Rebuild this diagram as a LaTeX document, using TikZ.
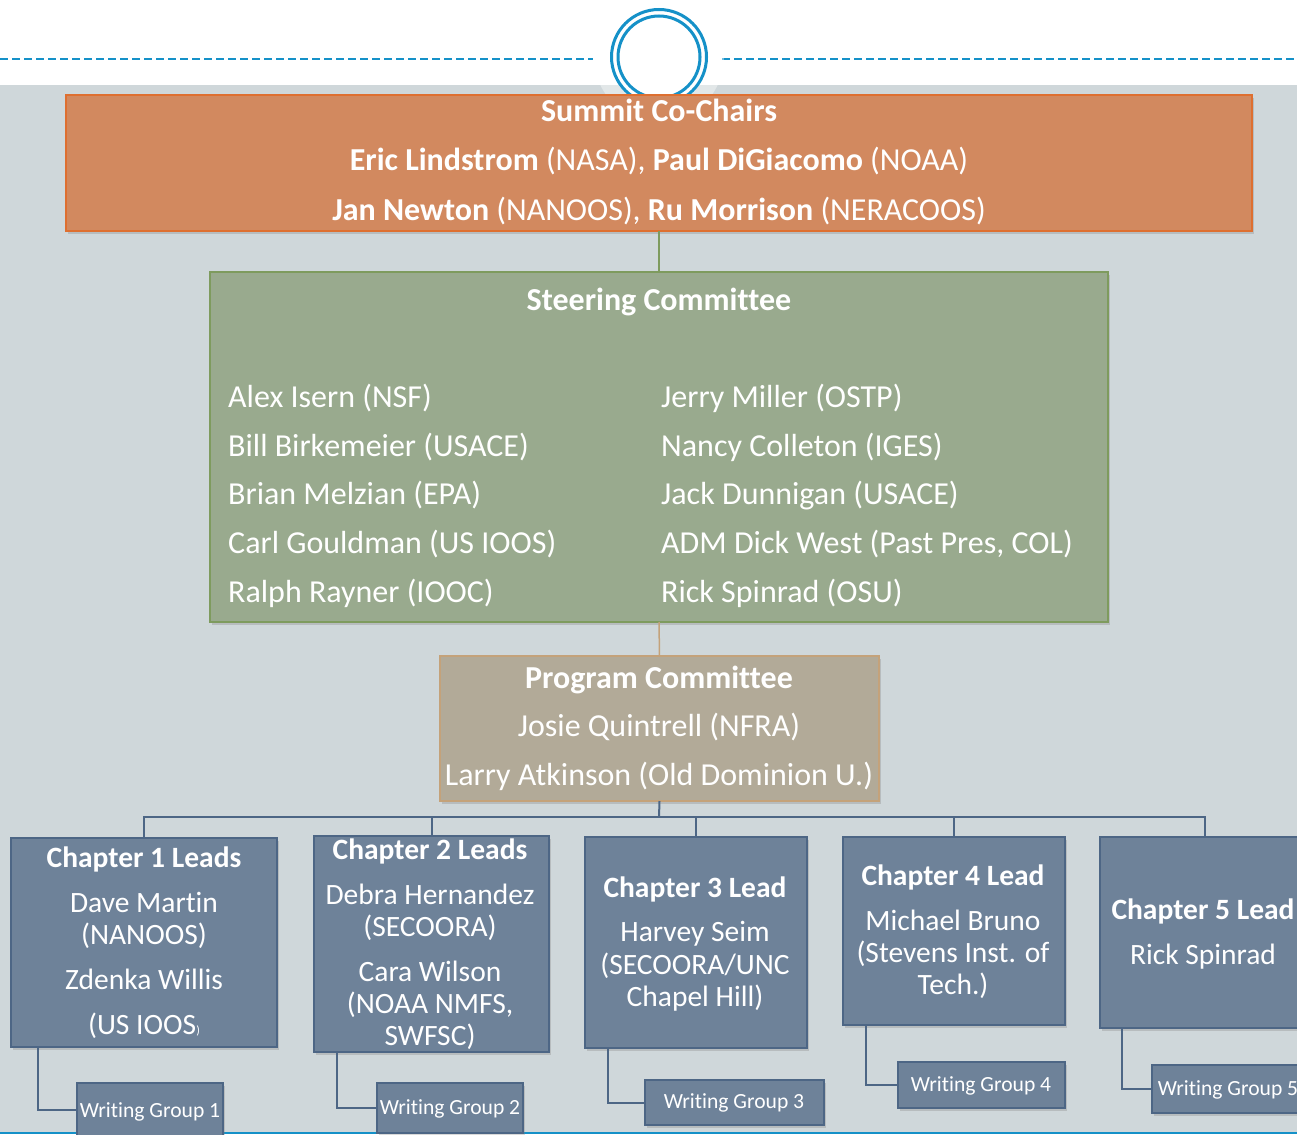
\documentclass[tikz,border=0pt]{standalone}
\usepackage{fontspec}
\setmainfont{Carlito}[Ligatures={NoCommon}]
\usetikzlibrary{shadows}
\definecolor{bgc}{HTML}{CFD7DA}
\definecolor{ringc}{HTML}{1591C8}
\definecolor{sumfill}{HTML}{D2895F}
\definecolor{sumdraw}{HTML}{DE6F30}
\definecolor{stfill}{HTML}{99AA8E}
\definecolor{stdraw}{HTML}{7E9B5E}
\definecolor{prfill}{HTML}{B2AA98}
\definecolor{prdraw}{HTML}{C4A27A}
\definecolor{chfill}{HTML}{6E8299}
\definecolor{chdraw}{HTML}{4D6685}
\newcommand\fBig{\fontsize{32}{38}\selectfont}
\newcommand\fMid{\fontsize{29.5}{35}\selectfont}
\newcommand\fSmall{\fontsize{21.6}{26}\selectfont}
\begin{document}
\begin{tikzpicture}[x=1pt,y=-1pt,
  box/.style={rectangle, inner sep=0pt, outer sep=0pt,
    drop shadow={opacity=0.3, shadow xshift=2pt, shadow yshift=-3pt}},
  sumbox/.style={box, fill=sumfill, draw=sumdraw, line width=2.5pt},
  stbox/.style={box, fill=stfill, draw=stdraw, line width=2pt},
  prbox/.style={box, fill=prfill, draw=prdraw, line width=2pt},
  chbox/.style={box, fill=chfill, draw=chdraw, line width=2pt},
  big/.style={text=white, font=\fBig, inner sep=0pt, anchor=base},
  mid/.style={text=white, font=\fMid, inner sep=0pt, anchor=base},
  small/.style={text=white, font=\fSmall, inner sep=0pt, anchor=base},
  conn/.style={chdraw, line width=2pt}]
\useasboundingbox (0,0) rectangle (1297,1134);
\clip (0,0) rectangle (1297,1134);
% background
\fill[bgc] (0,85) rectangle (1297,1134);
\draw[ringc, line width=2pt, dash pattern=on 8pt off 4pt] (0,59) -- (593,59);
\draw[ringc, line width=2pt, dash pattern=on 8pt off 4pt] (722,59) -- (1297,59);
\fill[white, opacity=0.4] (659,57) circle (65);
\fill[white] (659,57) circle (49);
\node[circle, draw=ringc, line width=3pt, minimum size=95pt, inner sep=0pt] (ringA) at (659,57) {};
\node[circle, draw=ringc, line width=3pt, minimum size=82pt, inner sep=0pt] (ringB) at (659,57) {};
\draw[ringc, line width=2pt] (0,1133) -- (1297,1133);

% connectors
\coordinate (bus) at (659,817);

% boxes
\node[sumbox, minimum width=1186pt, minimum height=136pt] (sum) at (659,163) {};
\node[stbox, minimum width=898pt, minimum height=350pt] (st) at (659,447) {};
\node[prbox, minimum width=439pt, minimum height=145pt] (pr) at (659.5,728.5) {};
\node[chbox, minimum width=266pt, minimum height=209pt] (ch1) at (144,942.5) {};
\node[chbox, minimum width=235pt, minimum height=216pt] (ch2) at (431.5,944) {};
\node[chbox, minimum width=222pt, minimum height=211pt] (ch3) at (696,942.5) {};
\node[chbox, minimum width=222pt, minimum height=188pt] (ch4) at (954,931) {};
\node[chbox, minimum width=210pt, minimum height=191pt] (ch5) at (1205,932.5) {};
\node[chbox, minimum width=146pt, minimum height=54pt] (wg1) at (150,1110) {};
\node[chbox, minimum width=146pt, minimum height=50pt] (wg2) at (450,1108) {};
\node[chbox, minimum width=179pt, minimum height=45pt] (wg3) at (734.5,1102.5) {};
\node[chbox, minimum width=167pt, minimum height=46pt] (wg4) at (981.5,1085) {};
\node[chbox, minimum width=153pt, minimum height=48pt] (wg5) at (1228.5,1089) {};

\draw[stdraw, line width=1.5pt] (sum.south) -- (st.north);
\draw[prdraw, line width=1.5pt] (st.south) -- (pr.north);
\draw[conn] (pr.south) -- (bus);
\draw[conn] (ch1.north) -- (ch1.north |- bus) -- (ch5.north |- bus) -- (ch5.north);
\draw[conn] (ch2.north) -- (ch2.north |- bus);
\draw[conn] (ch3.north) -- (ch3.north |- bus);
\draw[conn] (ch4.north) -- (ch4.north |- bus);
\draw[conn] ([xshift=27pt]ch1.south west) |- (wg1.west);
\draw[conn] ([xshift=23pt]ch2.south west) |- (wg2.west);
\draw[conn] ([xshift=23pt]ch3.south west) |- (wg3.west);
\draw[conn] ([xshift=23pt]ch4.south west) |- (wg4.west);
\draw[conn] ([xshift=22pt]ch5.south west) |- (wg5.west);

% Summit text
\node[big] (s1) at (659,122) {\bfseries Summit Co-Chairs};
\node[big] (s2) at (659,171) {\textbf{Eric Lindstrom} (NASA), \textbf{Paul DiGiacomo} (NOAA)};
\node[big] (s3) at (659,220) {\textbf{Jan Newton} (NANOOS), \textbf{Ru Morrison} (NERACOOS)};
% Steering text
\node[big] (t0) at (659,310) {\bfseries Steering Committee};
\node[big, anchor=base west] (l1) at (228,407) {Alex Isern (NSF)};
\node[big, anchor=base west] (l2) at (228,456) {Bill Birkemeier (USACE)};
\node[big, anchor=base west] (l3) at (228,504) {Brian Melzian (EPA)};
\node[big, anchor=base west] (l4) at (228,553) {Carl Gouldman (US IOOS)};
\node[big, anchor=base west] (l5) at (228,602) {Ralph Rayner (IOOC)};
\node[big, anchor=base west] (r1) at (661,407) {Jerry Miller (OSTP)};
\node[big, anchor=base west] (r2) at (661,456) {Nancy Colleton (IGES)};
\node[big, anchor=base west] (r3) at (661,504) {Jack Dunnigan (USACE)};
\node[big, anchor=base west] (r4) at (661,553) {ADM Dick West (Past Pres, COL)};
\node[big, anchor=base west] (r5) at (661,602) {Rick Spinrad (OSU)};
% Program text
\node[big] (p1) at (659,688) {\bfseries Program Committee};
\node[big] (p2) at (659,736) {Josie Quintrell (NFRA)};
\node[big] (p3) at (659,785) {Larry Atkinson (Old Dominion U.)};
% Chapter 1
\node[mid] (c1a) at (144,867) {\bfseries Chapter 1 Leads};
\node[mid] (c1b) at (144,912) {Dave Martin};
\node[mid] (c1c) at (144,944) {(NANOOS)};
\node[mid] (c1d) at (144,989) {Zdenka Willis};
\node[mid] (c1e) at (144,1034) {(US IOOS{\fontsize{12}{14}\selectfont )}};
% Chapter 2
\node[mid] (c2a) at (430,859) {\bfseries Chapter 2 Leads};
\node[mid] (c2b) at (430,904) {Debra Hernandez};
\node[mid] (c2c) at (430,936) {(SECOORA)};
\node[mid] (c2d) at (430,981) {Cara Wilson};
\node[mid] (c2e) at (430,1013) {(NOAA NMFS,};
\node[mid] (c2f) at (430,1045) {SWFSC)};
% Chapter 3
\node[mid] (c3a) at (695,897) {\bfseries Chapter 3 Lead};
\node[mid] (c3b) at (695,941) {Harvey Seim};
\node[mid] (c3c) at (695,974) {(SECOORA/UNC};
\node[mid] (c3d) at (695,1006) {Chapel Hill)};
% Chapter 4
\node[mid] (c4a) at (953,885) {\bfseries Chapter 4 Lead};
\node[mid] (c4b) at (953,930) {Michael Bruno};
\node[mid] (c4c) at (953,962) {(Stevens Inst. of};
\node[mid] (c4d) at (953,994) {Tech.)};
% Chapter 5
\node[mid] (c5a) at (1203,919) {\bfseries Chapter 5 Lead};
\node[mid] (c5b) at (1203,964) {Rick Spinrad};
% Writing groups
\node[small] (w1) at (150,1117) {Writing Group 1};
\node[small] (w2) at (450,1114) {Writing Group 2};
\node[small] (w3) at (734,1108) {Writing Group 3};
\node[small] (w4) at (981,1091) {Writing Group 4};
\node[small] (w5) at (1228,1095) {Writing Group 5};
\end{tikzpicture}
\end{document}
